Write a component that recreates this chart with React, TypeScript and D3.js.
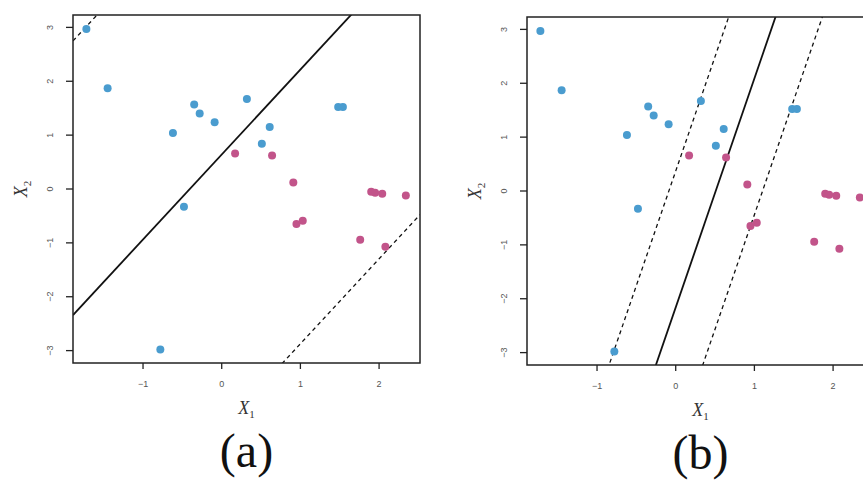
import * as d3 from "d3";

// observations (X1, X2)
const BLUE: [number, number][] = [
  [-1.72, 2.97], [-1.45, 1.87], [-0.35, 1.57], [-0.28, 1.40], [-0.09, 1.24],
  [-0.62, 1.04], [0.32, 1.67], [0.61, 1.15], [0.51, 0.84], [1.48, 1.52],
  [1.54, 1.52], [-0.48, -0.33], [-0.78, -2.98],
];
const PINK: [number, number][] = [
  [0.17, 0.66], [0.64, 0.62], [0.91, 0.12], [0.95, -0.65], [1.03, -0.59],
  [1.9, -0.05], [1.95, -0.07], [2.04, -0.09], [2.34, -0.12], [1.76, -0.94],
  [2.08, -1.07],
];

const X_TICKS = [-1, 0, 1, 2];
const Y_TICKS = [-3, -2, -1, 0, 1, 2, 3];
const X_DOMAIN = [-1.89, 2.52];
const Y_DOMAIN = [-3.23, 3.23];

// hyperplane + margins: x2 = intercept + slope * x1
const LINES_A = [
  { slope: 1.577, intercept: 0.64, dashed: false },
  { slope: 1.577, intercept: 5.73, dashed: true },
  { slope: 1.577, intercept: -4.45, dashed: true },
];
const LINES_B = [
  { slope: 4.25, intercept: -2.16, dashed: false },
  { slope: 4.25, intercept: 0.37, dashed: true },
  { slope: 4.25, intercept: -4.69, dashed: true },
];

const PANELS = [
  { id: "a", label: "(a)", left: 73, top: 15, lines: LINES_A },
  { id: "b", label: "(b)", left: 527, top: 17, lines: LINES_B },
];

const PW = 347, PH = 348;
const C = { blue: "#4a9ccf", pink: "#c2548a", axis: "#222", tick: "#555" };
const SERIF = "'Liberation Serif', 'DejaVu Serif', 'Noto Serif', 'Times New Roman', Times, serif";
const SANS = "'Liberation Sans', 'DejaVu Sans', sans-serif";

function Panel({ p }: { p: typeof PANELS[number] }) {
  const x = d3.scaleLinear().domain(X_DOMAIN).range([0, PW]);
  const y = d3.scaleLinear().domain(Y_DOMAIN).range([PH, 0]);
  const clipId = `clip-${p.id}`;

  return (
    <g transform={`translate(${p.left},${p.top})`}>
      <defs>
        <clipPath id={clipId}><rect width={PW} height={PH} /></clipPath>
      </defs>

      <g clipPath={`url(#${clipId})`}>
        {p.lines.map((l, i) => {
          const line = d3.line<number>().x(d => x(d)).y(d => y(l.intercept + l.slope * d));
          return (
            <path key={i} d={line(X_DOMAIN) || ""}
              fill="none" stroke="#111"
              strokeWidth={l.dashed ? 1.3 : 1.8}
              strokeDasharray={l.dashed ? "4,3.5" : undefined} />
          );
        })}
        {BLUE.map((d, i) => (
          <circle key={"b" + i} cx={x(d[0])} cy={y(d[1])} r={4} fill={C.blue} />
        ))}
        {PINK.map((d, i) => (
          <circle key={"p" + i} cx={x(d[0])} cy={y(d[1])} r={4} fill={C.pink} />
        ))}
      </g>

      <rect width={PW} height={PH} fill="none" stroke={C.axis} strokeWidth={1.5} />

      {/* y axis */}
      {Y_TICKS.map(t => (
        <g key={"y" + t} transform={`translate(0,${y(t)})`}>
          <line x1={-7} x2={0} stroke={C.axis} strokeWidth={1.3} />
          <text transform="translate(-20,0) rotate(-90)" textAnchor="middle"
            fontSize={9} fill={C.tick} fontFamily={SANS}>
            {t < 0 ? "\u2212" + Math.abs(t) : t}
          </text>
        </g>
      ))}
      {/* x axis */}
      {X_TICKS.map(t => (
        <g key={"x" + t} transform={`translate(${x(t)},${PH})`}>
          <line y1={0} y2={6} stroke={C.axis} strokeWidth={1.3} />
          <text y={24} textAnchor="middle" fontSize={9} fill={C.tick} fontFamily={SANS}>
            {t < 0 ? "\u2212" + Math.abs(t) : t}
          </text>
        </g>
      ))}

      <text x={PW / 2} y={PH + 51} textAnchor="middle" fontSize={18} fill="#333"
        fontFamily={SERIF} fontStyle="italic">
        X<tspan fontSize={11} dy={4} fontStyle="normal">1</tspan>
      </text>
      <text transform={`translate(-46,${PH / 2}) rotate(-90)`} textAnchor="middle"
        fontSize={18} fill="#333" fontFamily={SERIF} fontStyle="italic">
        X<tspan fontSize={11} dy={4} fontStyle="normal">2</tspan>
      </text>

      <text x={PW / 2} y={PH + 104} textAnchor="middle" fontSize={48} fill="#111"
        fontFamily={SERIF}>{p.label}</text>
    </g>
  );
}

export default function App() {
  return (
    <div style={{ position: "fixed", left: 0, top: 0, background: "#fff", width: 863, height: 482, overflow: "hidden" }}>
      <svg width={863} height={482} style={{ display: "block" }}>
        <rect width={863} height={482} fill="#fff" />
        {PANELS.map(p => <Panel key={p.id} p={p} />)}
      </svg>
    </div>
  );
}
